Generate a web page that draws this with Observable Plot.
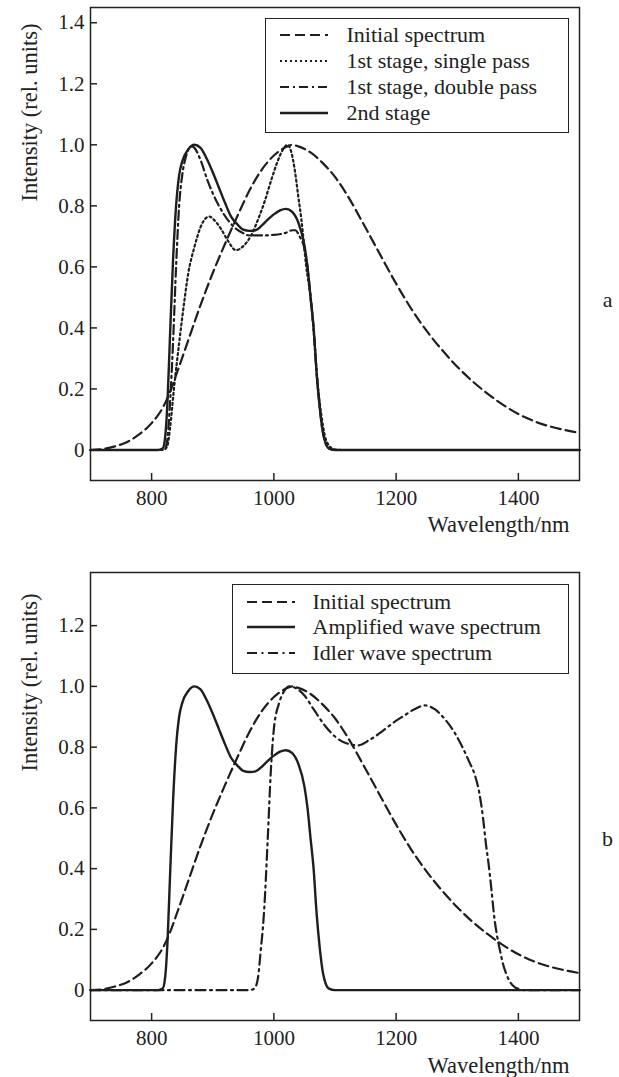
<!DOCTYPE html>
<html>
<head>
<meta charset="utf-8">
<script src="https://cdn.jsdelivr.net/npm/d3@7"></script>
<script src="https://cdn.jsdelivr.net/npm/@observablehq/plot@0.6"></script>
<style>
  html, body { margin: 0; padding: 0; background: #fff; }
  #root { position: relative; width: 619px; height: 1077px; font-family: "Liberation Serif", "Times New Roman", serif; color: #222; }
  .panel { position: absolute; left: 0; }
  .legend { position: absolute; background: #fff; border: 1.5px solid #222; box-sizing: border-box; }
  .row { position: absolute; left: 0; height: 26px; line-height: 26px; font-size: 22px; white-space: nowrap; }
  .row svg { position: absolute; top: 0; }
  .row span { position: absolute; }
</style>
</head>
<body>
<div id="root"></div>
<script>
// ---- Data ----
const xTicks = [800, 1000, 1200, 1400];
const xTickLabels = ["800", "1000", "1200", "1400"];
const yTicksA = [0, 0.2, 0.4, 0.6, 0.8, 1.0, 1.2, 1.4];
const yTicksB = [0, 0.2, 0.4, 0.6, 0.8, 1.0, 1.2];
const yTickLabels = ["0", "0.2", "0.4", "0.6", "0.8", "1.0", "1.2", "1.4"];

// Initial spectrum (both panels)
const initialWl = [700, 720, 740, 760, 780, 800, 820, 830, 840, 860, 880, 900, 920, 940, 960, 980, 1000, 1020, 1030, 1040, 1060, 1080, 1100, 1120, 1150, 1175, 1200, 1225, 1250, 1275, 1300, 1325, 1350, 1375, 1400, 1425, 1450, 1475, 1500];
const initialI  = [0, 0.003, 0.012, 0.026, 0.052, 0.088, 0.145, 0.19, 0.245, 0.36, 0.475, 0.58, 0.675, 0.765, 0.85, 0.918, 0.965, 0.993, 1.0, 0.995, 0.975, 0.94, 0.895, 0.835, 0.728, 0.636, 0.545, 0.462, 0.39, 0.328, 0.273, 0.225, 0.184, 0.148, 0.118, 0.095, 0.078, 0.066, 0.056];

// 1st stage, single pass
const singleWl = [700, 815, 822, 826, 830, 837, 845, 853, 860, 870, 880, 890, 895, 900, 913, 925, 938, 950, 963, 975, 985, 995, 1005, 1015, 1022, 1028, 1034, 1040, 1045, 1053, 1061, 1067, 1072, 1078, 1083, 1090, 1099, 1110, 1500];
const singleI  = [0, 0, 0.003, 0.015, 0.07, 0.21, 0.35, 0.48, 0.58, 0.665, 0.73, 0.762, 0.765, 0.758, 0.726, 0.685, 0.655, 0.668, 0.704, 0.76, 0.815, 0.88, 0.94, 0.985, 1.0, 0.98, 0.92, 0.83, 0.755, 0.6, 0.485, 0.34, 0.21, 0.11, 0.05, 0.015, 0.002, 0, 0];

// 1st stage, double pass
const doubleWl = [700, 815, 822, 826, 830, 835, 840, 845, 850, 856, 865, 870, 880, 892, 905, 919, 935, 950, 960, 980, 1000, 1020, 1030, 1035, 1042, 1050, 1055, 1060, 1065, 1070, 1075, 1080, 1085, 1090, 1100, 1500];
const doubleI  = [0, 0, 0.005, 0.04, 0.15, 0.35, 0.6, 0.8, 0.9, 0.96, 0.995, 0.99, 0.95, 0.88, 0.82, 0.77, 0.73, 0.71, 0.703, 0.703, 0.705, 0.712, 0.72, 0.72, 0.7, 0.66, 0.6, 0.5, 0.4, 0.25, 0.14, 0.06, 0.02, 0.005, 0, 0];

// 2nd stage / amplified wave spectrum
const secondWl = [700, 810, 818, 822, 826, 830, 835, 840, 845, 850, 860, 870, 880, 890, 900, 910, 920, 930, 940, 950, 960, 970, 980, 990, 1000, 1010, 1020, 1030, 1040, 1050, 1055, 1060, 1065, 1070, 1075, 1080, 1085, 1090, 1100, 1500];
const secondI  = [0, 0, 0.005, 0.04, 0.16, 0.37, 0.62, 0.8, 0.9, 0.945, 0.985, 1.0, 0.99, 0.955, 0.91, 0.86, 0.81, 0.765, 0.74, 0.722, 0.718, 0.72, 0.735, 0.755, 0.772, 0.785, 0.79, 0.78, 0.745, 0.67, 0.6, 0.5, 0.4, 0.25, 0.14, 0.06, 0.02, 0.005, 0, 0];

// Idler wave spectrum
const idlerWl = [700, 960, 968, 974, 978, 984, 990, 995, 1000, 1009, 1017, 1026, 1035, 1050, 1065, 1083, 1100, 1121, 1138, 1155, 1176, 1195, 1214, 1230, 1247, 1263, 1279, 1295, 1307, 1320, 1329, 1336, 1342, 1347, 1351, 1356, 1360, 1365, 1370, 1375, 1381, 1388, 1394, 1400, 1410, 1500];
const idlerI  = [0, 0, 0.005, 0.04, 0.12, 0.26, 0.5, 0.72, 0.86, 0.948, 0.985, 1.0, 0.995, 0.97, 0.925, 0.872, 0.835, 0.811, 0.806, 0.822, 0.85, 0.88, 0.905, 0.925, 0.9375, 0.925, 0.894, 0.85, 0.806, 0.75, 0.707, 0.65, 0.57, 0.48, 0.42, 0.33, 0.25, 0.18, 0.13, 0.085, 0.049, 0.022, 0.01, 0.004, 0, 0];

const labelsA = ["Initial spectrum", "1st stage, single pass", "1st stage, double pass", "2nd stage"];
const labelsB = ["Initial spectrum", "Amplified wave spectrum", "Idler wave spectrum"];

// ---- Helpers ----
const rows = (wl, v) => wl.map((w, i) => ({wl: w, v: v[i]}));
const ink = "#1e1e1e";
const S = {
  dash:   {strokeDasharray: "10,5", strokeWidth: 2.2},
  dot:    {strokeDasharray: "2,3", strokeWidth: 2.2},
  dashdot:{strokeDasharray: "9,4,2,4", strokeWidth: 2.2},
  idler:  {strokeDasharray: "10,4.5,2,4.5", strokeWidth: 2.2},
  solid:  {strokeDasharray: null, strokeWidth: 2.4}
};
const fmtY = d => yTickLabels[yTicksA.findIndex(t => Math.abs(t - d) < 1e-9)];
const fmtX = d => xTickLabels[xTicks.indexOf(d)];

function panel({height, marginTop, marginBottom, yDomain, yTicks, series, letter, letterDy, ylabDy, xlabDy}) {
  const W = 619, mL = 90, mR = 40;
  const plotH = height - marginTop - marginBottom;
  const pxPerY = plotH / (yDomain[1] - yDomain[0]);
  const pxPerX = (W - mL - mR) / 800;
  const tickLenY = 7 / pxPerY, tickLenX = 7 / pxPerX;
  const lineMarks = series.map(s => Plot.line(rows(s.wl, s.v), {
    x: "wl", y: "v", curve: "monotone-x", stroke: ink, strokeLinejoin: "round",
    strokeWidth: S[s.style].strokeWidth, strokeDasharray: S[s.style].strokeDasharray
  }));
  return Plot.plot({
    width: W, height, marginLeft: mL, marginRight: mR, marginTop, marginBottom,
    style: {fontFamily: "'Liberation Serif', 'Times New Roman', serif", fontSize: "21px", color: "#222", background: "transparent", overflow: "visible"},
    x: {domain: [700, 1500], ticks: xTicks, tickSize: 0, tickPadding: 10, tickFormat: fmtX, label: null},
    y: {domain: yDomain, ticks: yTicks, tickSize: 0, tickPadding: 6, tickFormat: fmtY, label: null},
    marks: [
      ...lineMarks,
      Plot.ruleX(xTicks, {x: d => d, y1: yDomain[0], y2: yDomain[0] + tickLenY, stroke: "#222", strokeWidth: 1.5}),
      Plot.ruleY(yTicks, {y: d => d, x1: 700, x2: 700 + tickLenX, stroke: "#222", strokeWidth: 1.5}),
      Plot.frame({stroke: "#222", strokeWidth: 1.5}),
      Plot.text(["Intensity (rel. units)"], {frameAnchor: "top-left", dx: -69, dy: ylabDy, rotate: -90, textAnchor: "middle", fontSize: 22.5, fill: "#222"}),
      Plot.text(["Wavelength/nm"], {frameAnchor: "bottom-right", dx: -10, dy: xlabDy, textAnchor: "end", fontSize: 22.5, fill: "#222"}),
      Plot.text([letter], {frameAnchor: "top-right", dx: 28, dy: letterDy, textAnchor: "middle", fontSize: 22, fill: "#222"})
    ]
  });
}

function legend(root, {left, top, width, height, items, rowTop, rowStep, lineX0, lineX1, textX}) {
  const box = document.createElement("div");
  box.className = "legend";
  Object.assign(box.style, {left: left + "px", top: top + "px", width: width + "px", height: height + "px"});
  items.forEach((it, i) => {
    const r = document.createElement("div");
    r.className = "row";
    r.style.top = (rowTop + i * rowStep - 1.5) + "px";
    r.style.width = (width - 3) + "px";
    const svg = document.createElementNS("http://www.w3.org/2000/svg", "svg");
    svg.setAttribute("width", lineX1 - lineX0 + 2);
    svg.setAttribute("height", 26);
    svg.style.left = (lineX0 - 1.5) + "px";
    const ln = document.createElementNS("http://www.w3.org/2000/svg", "line");
    ln.setAttribute("x1", 0); ln.setAttribute("x2", lineX1 - lineX0);
    ln.setAttribute("y1", 13); ln.setAttribute("y2", 13);
    ln.setAttribute("stroke", ink);
    ln.setAttribute("stroke-width", S[it.style].strokeWidth);
    if (S[it.style].strokeDasharray) ln.setAttribute("stroke-dasharray", S[it.style].strokeDasharray);
    svg.appendChild(ln);
    r.appendChild(svg);
    const sp = document.createElement("span");
    sp.textContent = it.label;
    sp.style.left = (textX - 1.5) + "px";
    r.appendChild(sp);
    box.appendChild(r);
  });
  root.appendChild(box);
}

const root = document.getElementById("root");

// Panel a
const a = panel({
  height: 540, marginTop: 7, marginBottom: 60, yDomain: [-0.1, 1.45], yTicks: yTicksA,
  series: [
    {wl: initialWl, v: initialI, style: "dash"},
    {wl: singleWl, v: singleI, style: "dot"},
    {wl: doubleWl, v: doubleI, style: "dashdot"},
    {wl: secondWl, v: secondI, style: "solid"}
  ],
  letter: "a", letterDy: 284, ylabDy: 105, xlabDy: 51
});
const da = document.createElement("div"); da.className = "panel"; da.style.top = "0px"; da.appendChild(a); root.appendChild(da);

// Panel b
const b = panel({
  height: 517, marginTop: 12, marginBottom: 57, yDomain: [-0.1, 1.375], yTicks: yTicksB,
  series: [
    {wl: initialWl, v: initialI, style: "dash"},
    {wl: idlerWl, v: idlerI, style: "idler"},
    {wl: secondWl, v: secondI, style: "solid"}
  ],
  letter: "b", letterDy: 258, ylabDy: 110, xlabDy: 52
});
const db = document.createElement("div"); db.className = "panel"; db.style.top = "560px"; db.appendChild(b); root.appendChild(db);

legend(root, {left: 265, top: 18, width: 304, height: 115, rowTop: 4, rowStep: 26, lineX0: 15, lineX1: 63, textX: 82,
  items: [
    {label: labelsA[0], style: "dash"},
    {label: labelsA[1], style: "dot"},
    {label: labelsA[2], style: "dashdot"},
    {label: labelsA[3], style: "solid"}
  ]});
legend(root, {left: 232, top: 584, width: 337, height: 90, rowTop: 5, rowStep: 25.5, lineX0: 15, lineX1: 63, textX: 81,
  items: [
    {label: labelsB[0], style: "dash"},
    {label: labelsB[1], style: "solid"},
    {label: labelsB[2], style: "idler"}
  ]});
</script>
</body>
</html>
